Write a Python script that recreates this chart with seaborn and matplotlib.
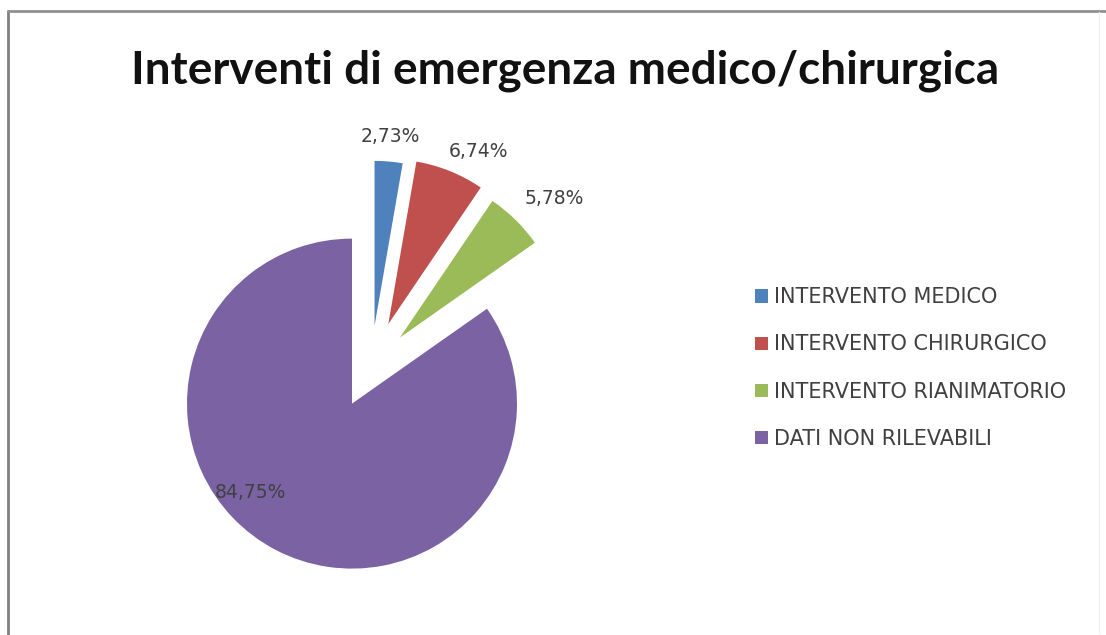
import numpy as np
import matplotlib
matplotlib.use("Agg")
import matplotlib.pyplot as plt
from matplotlib.lines import Line2D
from matplotlib.patches import Rectangle
import seaborn as sns

sns.set_theme(style="white")
plt.rcParams["font.family"] = ["DejaVu Sans"]

# Data
title = "Interventi di emergenza medico/chirurgica"
categories = ["INTERVENTO MEDICO", "INTERVENTO CHIRURGICO",
              "INTERVENTO RIANIMATORIO", "DATI NON RILEVABILI"]
values = [2.73, 6.74, 5.78, 84.75]
labels = ["2,73%", "6,74%", "5,78%", "84,75%"]

colors = ["#4F81BD", "#C0504D", "#9BBB59", "#7A62A3"]
explode = [0.25, 0.28, 0.25, 0.25]
# label placement: distance from slice tip (in radii) and angle shift (deg)
label_dist = [1.15, 1.18, 1.26, 0.82]
label_shift = [0.0, -5.6, -3.5, -21.5]

W, H = 1106, 635
fig = plt.figure(figsize=(W / 100, H / 100), dpi=100)
fig.patch.set_facecolor("white")

# pie axes: radius 165 px, pie centre at (371, 367) px from top-left
R = 165.0
half = 250.0
cx, cy = 371.0, H - 367.0
ax = fig.add_axes([(cx - half) / W, (cy - half) / H, 2 * half / W, 2 * half / H])

wedges, _ = ax.pie(values, colors=colors, explode=explode, startangle=90,
                   counterclock=False, radius=1.0,
                   wedgeprops=dict(linewidth=0))
ax.set_xlim(-half / R, half / R)
ax.set_ylim(-half / R, half / R)
ax.set_aspect("equal")
ax.axis("off")

for w, lab, d, s in zip(wedges, labels, label_dist, label_shift):
    ang = np.deg2rad((w.theta1 + w.theta2) / 2 + s)
    x0, y0 = w.center
    ax.text(x0 + d * np.cos(ang), y0 + d * np.sin(ang), lab,
            ha="center", va="center", fontsize=13.5, color="#404040")

# title
fig.text(565 / W, 1 - 71 / H, title, ha="center", va="center",
         fontsize=33, fontweight="bold", color="#111111",
         family=["Lato", "DejaVu Sans"])

# legend
handles = [Rectangle((0, 0), 1, 1, facecolor=c, edgecolor="none") for c in colors]
leg = fig.legend(handles, categories, loc="upper left",
                 bbox_to_anchor=(745 / W, 1 - 277 / H), frameon=False,
                 fontsize=15, handlelength=0.6, handleheight=0.6,
                 handletextpad=0.3, labelspacing=1.3, borderpad=0)
for t in leg.get_texts():
    t.set_color("#404040")

# chart area border
fig.add_artist(Line2D([8 / W, 8 / W], [0, 1 - 11 / H], transform=fig.transFigure,
                      color="#808080", linewidth=2))
fig.add_artist(Line2D([8 / W, 1], [1 - 11 / H, 1 - 11 / H], transform=fig.transFigure,
                      color="#909090", linewidth=2))
fig.add_artist(Line2D([1099 / W, 1099 / W], [2 / H, 1 - 12 / H], transform=fig.transFigure,
                      color="#f0f0f0", linewidth=1))

fig.savefig("out.png", dpi=100, facecolor="white")
